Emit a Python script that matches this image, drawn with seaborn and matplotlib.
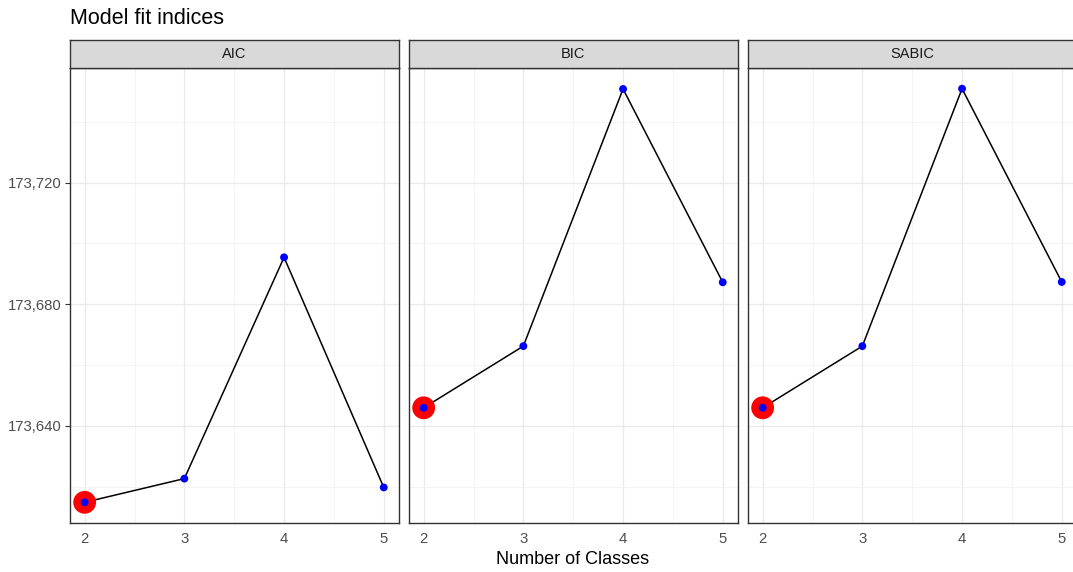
import numpy as np
import pandas as pd
import matplotlib.pyplot as plt
import seaborn as sns
from matplotlib.ticker import FuncFormatter, MultipleLocator

# Values
classes = [2, 3, 4, 5]
aic = [173614.8, 173622.6, 173695.4, 173619.7]
bic = [173645.9, 173666.2, 173750.8, 173687.2]
sabic = [173645.9, 173666.2, 173750.9, 173687.3]
indices = ['AIC', 'BIC', 'SABIC']

df = pd.DataFrame({
    'classes': classes * 3,
    'value': aic + bic + sabic,
    'index': np.repeat(indices, len(classes)),
})

sns.set_theme(style='white')
plt.rcParams['font.family'] = ['Liberation Sans', 'DejaVu Sans']

W, H = 1073, 572
fig = plt.figure(figsize=(W / 100, H / 100), dpi=100)

panel_w = 329
gap = 10
left0 = 69.7
top_px, bot_px = 68, 523
strip_h = 28

ymin = min(df['value'])
ymax = max(df['value'])
pad = (ymax - ymin) * 0.05

for i, name in enumerate(indices):
    x0 = left0 + i * (panel_w + gap)
    ax = fig.add_axes([x0 / W, 1 - bot_px / H, panel_w / W, (bot_px - top_px) / H])
    sub = df[df['index'] == name]

    # grid
    ax.xaxis.set_major_locator(MultipleLocator(1))
    ax.xaxis.set_minor_locator(MultipleLocator(0.5))
    ax.yaxis.set_major_locator(MultipleLocator(40))
    ax.yaxis.set_minor_locator(MultipleLocator(20))
    ax.grid(which='major', color='#EBEBEB', linewidth=1.0)
    ax.grid(which='minor', color='#F2F2F2', linewidth=0.6)
    ax.set_axisbelow(True)

    sns.lineplot(data=sub, x='classes', y='value', color='black', linewidth=1.1, ax=ax)
    best = sub.loc[[sub['value'].idxmin()]]
    sns.scatterplot(data=best, x='classes', y='value', color='red', s=270,
                    edgecolor='none', ax=ax, zorder=3)
    sns.scatterplot(data=sub, x='classes', y='value', color='blue', s=32,
                    edgecolor='none', ax=ax, zorder=4)

    ax.set_xlim(1.85, 5.15)
    ax.set_ylim(ymin - pad, ymax + pad)
    ax.set_xlabel('')
    ax.set_ylabel('')
    ax.set_xticks(classes)
    ax.tick_params(axis='x', which='major', length=3.5, width=0.8, color='#333333',
                   labelsize=10.7, labelcolor='#4D4D4D', pad=3)
    ax.tick_params(axis='both', which='minor', length=0)
    if i == 0:
        ax.yaxis.set_major_formatter(FuncFormatter(lambda v, p: f'{v:,.0f}'))
        ax.tick_params(axis='y', which='major', length=3.5, width=0.8, color='#333333',
                       labelsize=10.7, labelcolor='#4D4D4D', pad=2, left=True)
    else:
        ax.tick_params(axis='y', which='major', length=0, labelleft=False)
    for s in ax.spines.values():
        s.set_color('#333333')
        s.set_linewidth(1.0)

    # strip
    sax = fig.add_axes([x0 / W, 1 - top_px / H, panel_w / W, strip_h / H])
    sax.set_facecolor('#D9D9D9')
    sax.set_xticks([])
    sax.set_yticks([])
    for s in sax.spines.values():
        s.set_color('#333333')
        s.set_linewidth(1.0)
    sax.text(0.5, 0.5, name, ha='center', va='center', fontsize=10.5,
             color='#1A1A1A', transform=sax.transAxes)

fig.text(left0 / W, 1 - 18 / H, 'Model fit indices', fontsize=15.5,
         ha='left', va='center', color='black')
fig.text(573 / W, 1 - 559 / H, 'Number of Classes', fontsize=13,
         ha='center', va='center', color='black')

fig.savefig('out.png', dpi=100)
